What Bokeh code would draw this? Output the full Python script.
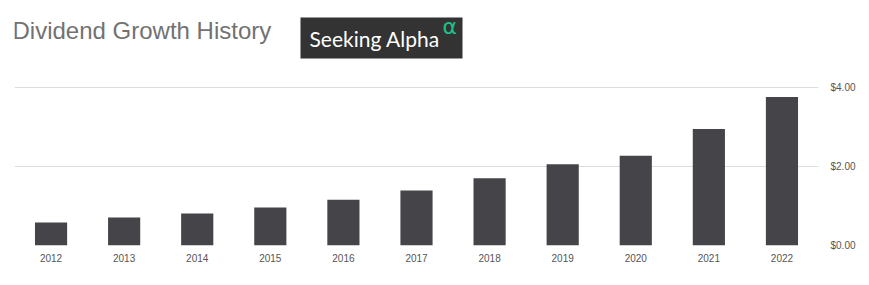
from bokeh.plotting import figure
from bokeh.layouts import column
from bokeh.models import Range1d, FactorRange, FixedTicker, NumeralTickFormatter
from bokeh.core.properties import value
from bokeh.embed import file_html
from bokeh.resources import INLINE

years = ["2012", "2013", "2014", "2015", "2016", "2017", "2018", "2019", "2020", "2021", "2022"]
dividends = [0.58, 0.71, 0.81, 0.96, 1.16, 1.39, 1.70, 2.06, 2.27, 2.95, 3.76]
y_ticks = [0, 2, 4]

title_text = "Dividend Growth History"
logo_text = "Seeking Alpha"
logo_mark = "α"

# ---- header (frame aligned with chart frame: canvas x 14..818, y 0..70) ----
h = figure(width=869, height=70, output_backend="svg", toolbar_location=None,
           x_range=Range1d(14, 818), y_range=Range1d(70, 0),
           min_border_left=14, min_border_right=51, min_border_top=0, min_border_bottom=0,
           outline_line_color=None)
h.axis.visible = False
h.grid.visible = False
h.text(x=[12], y=[30], text=[title_text], text_font=value("Liberation Sans"),
       text_font_size="24px", text_color="#727272", text_baseline="alphabetic")
h.quad(left=[300], right=[462], top=[17], bottom=[58], fill_color="#333333", line_color=None)
h.text(x=[309], y=[38], text=[logo_text], text_font=value("Lato"),
       text_font_size="21px", text_color="#ffffff", text_baseline="alphabetic")
h.text(x=[442], y=[26], text=[logo_mark], text_font=value("DejaVu Sans"),
       text_font_size="22px", text_color="#1dc286", text_baseline="alphabetic")

# ---- chart ----
p = figure(width=869, height=215, output_backend="svg", toolbar_location=None,
           x_range=FactorRange(*years, range_padding=0),
           y_range=Range1d(0, 165 / 39.5),
           min_border_left=14, min_border_right=51, min_border_top=10, min_border_bottom=40,
           outline_line_color=None, y_axis_location="right")
p.vbar(x=years, top=dividends, width=0.44, fill_color="#444449", line_color=None)

p.xaxis.axis_line_color = None
p.xaxis.major_tick_line_color = None
p.xaxis.minor_tick_line_color = None
p.xaxis.major_tick_out = 0
p.xaxis.major_tick_in = 0
p.xaxis.major_label_standoff = 8
p.xaxis.major_label_text_font = "Liberation Sans"
p.xaxis.major_label_text_font_size = "10px"
p.xaxis.major_label_text_color = "#555555"
p.xgrid.visible = False

p.yaxis.ticker = FixedTicker(ticks=y_ticks)
p.yaxis.formatter = NumeralTickFormatter(format="$0.00")
p.yaxis.axis_line_color = None
p.yaxis.major_tick_line_color = None
p.yaxis.minor_tick_line_color = None
p.yaxis.major_tick_out = 0
p.yaxis.major_tick_in = 0
p.yaxis.major_label_standoff = 12
p.yaxis.major_label_text_font = "Liberation Sans"
p.yaxis.major_label_text_font_size = "10px"
p.yaxis.major_label_text_color = "#555555"
p.ygrid.ticker = FixedTicker(ticks=y_ticks)
p.ygrid.grid_line_color = "#dddddd"
p.ygrid.grid_line_width = 1

layout = column(h, p, spacing=0)
open("out.html", "w").write(file_html(layout, INLINE))
